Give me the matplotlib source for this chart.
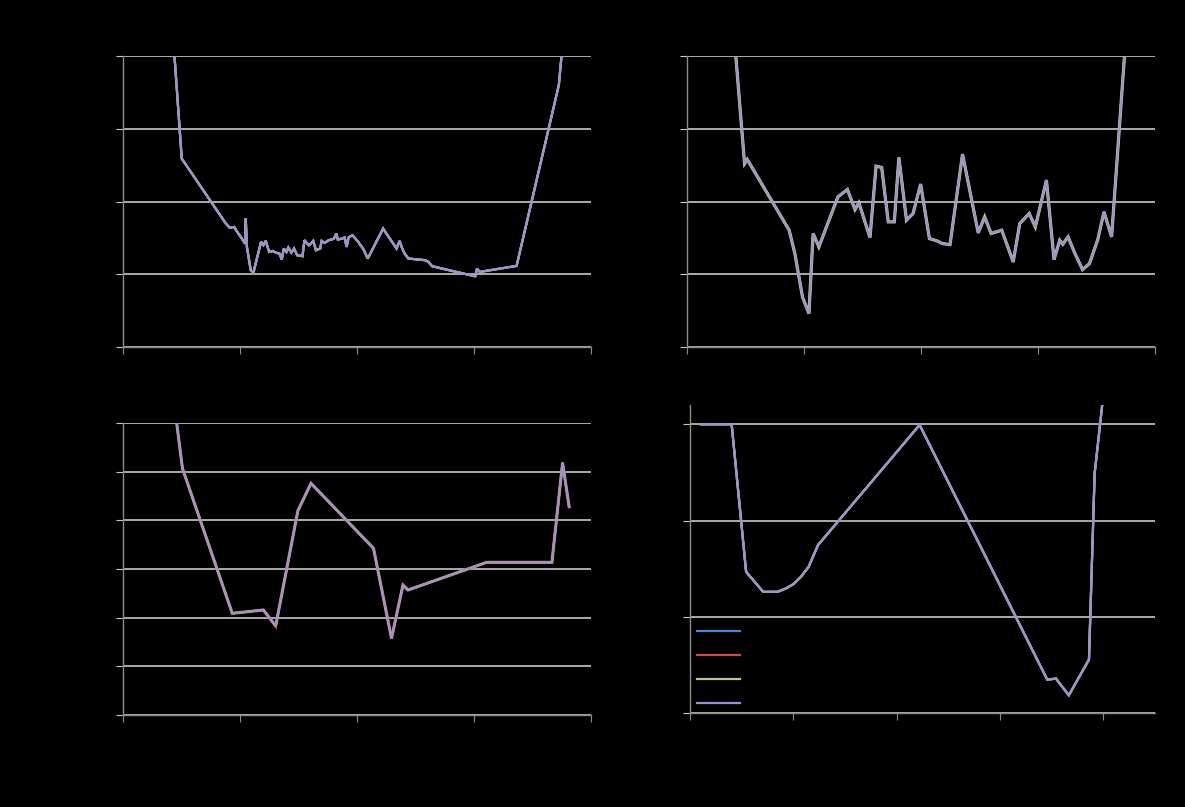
import matplotlib
matplotlib.use("Agg")
import matplotlib.pyplot as plt

# ---------------- data ----------------
series_names = ["Series1", "Series2", "Series3", "Series4"]
series_colors = ["#5B7FD0", "#C0504D", "#B8CC86", "#9A93CC"]

# panel 1 (top-left)
p1_x = [44, 50.2, 87.9, 91.1, 95.1, 97, 101, 104.3, 104.9, 105.9, 109.2, 111.5,
        114.8, 118, 120, 122, 124.9, 127.9, 131.1, 133.8, 135.7, 137.4, 139.7,
        141.3, 143.9, 146.2, 148.9, 153.4, 155.1, 158.7, 160.7, 162.6, 164.9,
        168.5, 169.8, 172.5, 175.7, 178.4, 180.3, 182.3, 183.6, 187.2, 189.5,
        191.1, 192.8, 196.1, 200.3, 205.2, 209.2, 222.3, 233.8, 236.4, 238.7,
        240.7, 243.9, 258.4, 261, 264.3, 301, 302.6, 304.9, 336.4, 372.5, 374.8]
p1_y = [400, 259, 169.7, 164, 165, 159.6, 150.5, 142, 176.6, 137.6, 105.5, 102.3,
        123.9, 144.5, 140, 145.9, 130.7, 132, 129.4, 128.4, 120.2, 135.3, 130.7,
        136.7, 129.8, 135.3, 126.1, 124.8, 146.8, 139.9, 142.2, 145.9, 133,
        135.3, 145.9, 143.1, 146.8, 147.7, 149, 156, 147.7, 149, 150.5,
        137.6, 150.5, 153.7, 145.9, 135.3, 121.6, 162.8, 135.3, 145.9, 135.3,
        128.4, 121.6, 119.3, 117, 111, 97.2, 107.8, 103.2, 111.5, 360, 400]

# panel 2 (top-right)
p2_x = [41.7, 49.2, 51.5, 87.3, 92.2, 98.7, 104.2, 107.8, 112.7, 129, 137.1,
        143.6, 146.9, 156.4, 161.6, 166.4, 172, 177.2, 181.1, 187.6, 193.2,
        199.7, 207.2, 213.7, 218.2, 224.8, 235.5, 248.9, 254.4, 259.9, 269,
        278.8, 284.4, 292.5, 297.7, 307.2, 313.7, 318.6, 321.2, 325.7, 331.6,
        338.1, 344, 351.1, 356.4, 362.9, 373.9]
p2_y = [400, 252, 257.8, 160.6, 128.4, 68.8, 45.9, 156, 137.6, 206.4, 216.5,
        189, 198.2, 150.5, 248.6, 246.8, 172, 172, 260.6, 174.3, 183.5,
        223.9, 149, 145.9, 142.2, 140.8, 265.1, 156.9, 178.9, 156, 160.6,
        117, 169.7, 183.5, 165.1, 229.4, 120.2, 146.8, 141.3, 151.4, 128.4,
        106.4, 114.7, 147.7, 185.8, 151.4, 400]

# panel 3 (bottom-left)
p3_x = [45.9, 50.8, 93.4, 120, 130.5, 149.5, 160.7, 214.1, 229.5, 239.3,
        243.6, 310.8, 366.6, 375.7, 381.3]
p3_y = [600, 506.8, 208.9, 215.8, 182.9, 419.9, 476, 342.5, 157.5, 267.1,
        256.8, 313.7, 313.7, 518.5, 428]

# panel 4 (bottom-right)
p4_x = [10.3, 40.3, 54.3, 70.8, 84.7, 92.8, 100.1, 107.4, 114.8, 123.9,
        222.2, 345.7, 354.2, 366.6, 386.1, 391.6, 398.9]
p4_y = [300, 300, 146.7, 125.9, 125.9, 129.4, 133.9, 141.5, 151.9, 174.5,
        299.3, 34.7, 35.7, 18.4, 55.5, 249, 320]

x_ticks = [0, 100, 200, 300, 400]

# ---------------- figure ----------------
fig = plt.figure(figsize=(11.85, 8.07), dpi=100, facecolor="black")

W, H = 1185.0, 807.0
def box(l, r, t, b):
    return [l / W, 1 - b / H, (r - l) / W, (b - t) / H]

grid_c = "#C8C8C8"
axis_c = "#8C8C8C"

def style(ax, xlim, ylim, yticks, xticks):
    ax.set_facecolor("black")
    ax.set_xlim(*xlim)
    ax.set_ylim(*ylim)
    ax.set_yticks(yticks)
    ax.set_xticks(xticks)
    for s in ["top", "right"]:
        ax.spines[s].set_visible(False)
    for s in ["left", "bottom"]:
        ax.spines[s].set_color(axis_c)
        ax.spines[s].set_linewidth(1.0)
    ax.yaxis.grid(True, color=grid_c, linewidth=1.2)
    ax.set_axisbelow(True)
    ax.tick_params(axis="y", direction="out", length=5, color=grid_c,
                   labelcolor="black", labelsize=10)
    ax.tick_params(axis="x", direction="out", length=5, color=axis_c,
                   labelcolor="black", labelsize=10)

def draw(ax, x, y, under_idx=None):
    for i, (name, c) in enumerate(zip(series_names, series_colors)):
        lw = 1.6
        if under_idx is not None and i == under_idx:
            lw = 2.3
        ax.plot(x, y, color=c, linewidth=lw, label=name,
                solid_joinstyle="miter", zorder=3 + i)

ax1 = fig.add_axes(box(123, 591, 56, 347))
style(ax1, (0, 400), (0, 400), [0, 100, 200, 300, 400], x_ticks)
draw(ax1, p1_x, p1_y)

ax2 = fig.add_axes(box(687, 1155, 56, 347))
style(ax2, (0, 400), (0, 400), [0, 100, 200, 300, 400], x_ticks)
draw(ax2, p2_x, p2_y, under_idx=2)

ax3 = fig.add_axes(box(123, 591, 423, 715))
style(ax3, (0, 400), (0, 600), [0, 100, 200, 300, 400, 500, 600], x_ticks)
draw(ax3, p3_x, p3_y, under_idx=1)

ax4 = fig.add_axes(box(690, 1155, 405, 713))
style(ax4, (0, 450), (0, 320), [0, 100, 200, 300], x_ticks)
draw(ax4, p4_x, p4_y)
leg = ax4.legend(loc="upper left", bbox_to_anchor=(0.015, 0.285),
                 frameon=False, fontsize=10, handlelength=3.1,
                 labelspacing=0.72, borderpad=0, borderaxespad=0,
                 handletextpad=0.8)
for t in leg.get_texts():
    t.set_color("black")

fig.savefig("out.png", dpi=100, facecolor="black")
